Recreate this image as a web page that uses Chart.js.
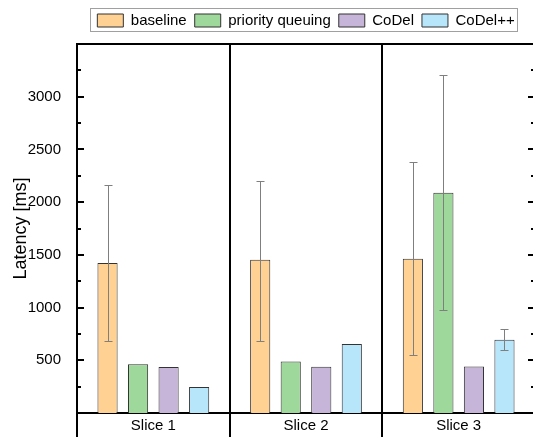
<!DOCTYPE html>
<html>
<head>
<meta charset="utf-8">
<script src="https://cdn.jsdelivr.net/npm/chart.js@4"></script>
<style>
    html, body { margin: 0; padding: 0; background: #fff; overflow: hidden; }
    #wrap { width: 533px; height: 437px; overflow: hidden; }
</style>
</head>
<body>
<div id="wrap"><canvas id="latencyChart" width="537" height="437"></canvas></div>
<script>
const categories = ['Slice 1', 'Slice 2', 'Slice 3'];
const seriesNames = ['baseline', 'priority queuing', 'CoDel', 'CoDel++'];

const baseline = [1422, 1454, 1464];
const priorityQueuing = [462, 488, 2088];
const codel = [437, 438, 440];
const codelPlus = [247, 654, 694];

// error bars as [low, high], null where the chart shows none
const baselineErr = [[687, 2165], [679, 2205], [548, 2383]];
const priorityQueuingErr = [null, null, [980, 3204]];
const codelErr = [null, null, null];
const codelPlusErr = [null, null, [599, 796]];

const yTicksMajor = 500;
const yTicksMinor = 250;
const yMax = 3500;

const fills = ['#FFD193', '#9FD89B', '#C6B5D8', '#B7E5FA'];
const FONT = "'Liberation Sans', Arial, sans-serif";

const errorBarPlugin = {
    id: 'errorBars',
    afterDatasetsDraw(chart) {
        const { ctx, scales: { y } } = chart;
        ctx.save();
        ctx.strokeStyle = '#7f7f7f';
        ctx.lineWidth = 1;
        chart.data.datasets.forEach((ds, i) => {
            const meta = chart.getDatasetMeta(i);
            ds.errors.forEach((err, j) => {
                if (!err) return;
                const x = Math.round(meta.data[j].x) + 0.5;
                const lo = Math.round(y.getPixelForValue(err[0])) + 0.5;
                const hi = Math.round(y.getPixelForValue(err[1])) + 0.5;
                ctx.beginPath();
                ctx.moveTo(x, lo);
                ctx.lineTo(x, hi);
                ctx.moveTo(x - 4, lo);
                ctx.lineTo(x + 4, lo);
                ctx.moveTo(x - 4, hi);
                ctx.lineTo(x + 4, hi);
                ctx.stroke();
            });
        });
        ctx.restore();
    }
};

const framePlugin = {
    id: 'frame',
    afterInit(chart) {
        // leave a bit more room between the legend and the plot frame
        const legend = chart.legend;
        const fit = legend.fit;
        legend.fit = function () {
            fit.call(this);
            this.height += 6;
        };
    },
    afterDraw(chart) {
        const { ctx, chartArea: area, scales: { y } } = chart;
        ctx.save();
        ctx.strokeStyle = '#000';
        ctx.lineWidth = 2;

        // top and right edges of the frame
        ctx.beginPath();
        ctx.moveTo(area.left - 1, area.top);
        ctx.lineTo(area.right, area.top);
        ctx.lineTo(area.right, area.bottom);
        ctx.stroke();

        // inward tick marks on both y sides
        y.ticks.forEach(tick => {
            if (tick.value <= 0 || tick.value >= yMax) return;
            const py = Math.round(y.getPixelForValue(tick.value));
            const len = tick.value % yTicksMajor === 0 ? 7 : 4;
            ctx.beginPath();
            ctx.moveTo(area.left, py);
            ctx.lineTo(area.left + len, py);
            ctx.moveTo(area.right, py);
            ctx.lineTo(area.right - len, py);
            ctx.stroke();
        });

        // box round the legend
        const boxes = chart.legend.legendHitBoxes;
        if (boxes && boxes.length) {
            const first = boxes[0];
            const last = boxes[boxes.length - 1];
            ctx.strokeStyle = '#a0a0a0';
            ctx.lineWidth = 1;
            ctx.strokeRect(
                Math.round(first.left) - 6.5,
                Math.round(first.top) - 4.5,
                Math.round(last.left + last.width - first.left) + 10,
                Math.round(first.height) + 8
            );
        }
        ctx.restore();
    }
};

const makeDataset = (label, data, errors, color) => ({
    label,
    data,
    errors,
    backgroundColor: color,
    borderColor: '#333',
    borderWidth: 1,
    borderSkipped: 'start',
    categoryPercentage: 0.8,
    barPercentage: 0.66
});

new Chart(document.getElementById('latencyChart'), {
    type: 'bar',
    data: {
        labels: categories,
        datasets: [
            makeDataset(seriesNames[0], baseline, baselineErr, fills[0]),
            makeDataset(seriesNames[1], priorityQueuing, priorityQueuingErr, fills[1]),
            makeDataset(seriesNames[2], codel, codelErr, fills[2]),
            makeDataset(seriesNames[3], codelPlus, codelPlusErr, fills[3])
        ]
    },
    options: {
        responsive: false,
        animation: false,
        devicePixelRatio: 1,
        layout: {
            padding: { top: 5, right: 2, bottom: 0, left: 0 }
        },
        plugins: {
            legend: {
                position: 'top',
                fullSize: false,
                labels: {
                    boxWidth: 26,
                    boxHeight: 13,
                    padding: 8,
                    color: '#000',
                    font: { family: FONT, size: 15 }
                }
            },
            tooltip: { enabled: false }
        },
        scales: {
            x: {
                grid: {
                    offset: true,
                    color: '#000',
                    lineWidth: 2,
                    tickLength: 24
                },
                border: { color: '#000', width: 2 },
                ticks: {
                    color: '#000',
                    padding: -20,
                    font: { family: FONT, size: 15 }
                },
                afterFit: scale => { scale.height = 24; }
            },
            y: {
                min: 0,
                max: yMax,
                grid: { display: false },
                border: { color: '#000', width: 2 },
                ticks: {
                    stepSize: yTicksMinor,
                    maxTicksLimit: 20,
                    autoSkip: false,
                    padding: 8,
                    color: '#000',
                    font: { family: FONT, size: 15 },
                    callback: value => (value > 0 && value < yMax && value % yTicksMajor === 0 ? value : '')
                },
                title: {
                    display: true,
                    text: 'Latency [ms]',
                    color: '#000',
                    padding: { top: 10, bottom: 0 },
                    font: { family: FONT, size: 18 }
                },
                afterFit: scale => { scale.width = 77; }
            }
        }
    },
    plugins: [errorBarPlugin, framePlugin]
});
</script>
</body>
</html>
